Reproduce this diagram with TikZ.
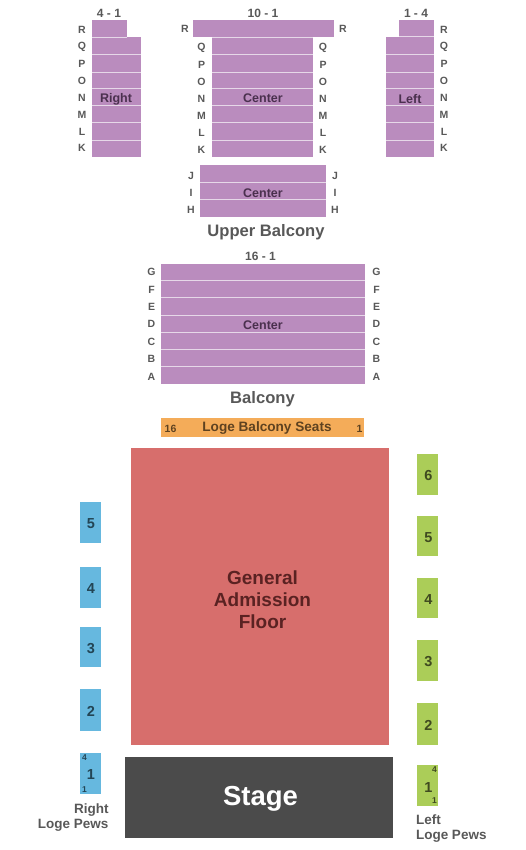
\documentclass[tikz,border=0pt]{standalone}
\usepackage{fontspec}
\setmainfont{Liberation Sans}
\definecolor{purp}{HTML}{BA8CBE}
\definecolor{sep}{HTML}{E6D8E8}
\definecolor{orng}{HTML}{F4AC59}
\definecolor{redf}{HTML}{D76E6C}
\definecolor{stg}{HTML}{4B4B4B}
\definecolor{blu}{HTML}{66B8DF}
\definecolor{grn}{HTML}{ABCD58}
\definecolor{gtxt}{HTML}{585858}
\definecolor{ptxt}{HTML}{4A304E}
\definecolor{rtxt}{HTML}{5A2222}
\definecolor{otxt}{HTML}{5E4220}
\definecolor{btxt}{HTML}{234555}
\definecolor{ntxt}{HTML}{3F4A20}
\tikzset{
  x=1pt,y=-1pt,
  every node/.style={inner sep=0pt,outer sep=0pt,font=\bfseries},
  rowlbl/.style={text=gtxt,yshift=-0.8pt,font=\fontsize{10.5}{12}\selectfont\bfseries},
  head/.style={text=gtxt,yshift=-0.6pt,font=\fontsize{12}{13}\selectfont\bfseries},
  title/.style={text=gtxt,yshift=-0.8pt,font=\fontsize{16.6}{18}\selectfont\bfseries},
  pew/.style={text=gtxt,yshift=-1.5pt,font=\fontsize{13.5}{15.5}\selectfont\bfseries},
  seclbl/.style={text=ptxt,yshift=-0.8pt,font=\fontsize{12.5}{14}\selectfont\bfseries},
  small/.style={font=\fontsize{8.5}{10}\selectfont\bfseries},
  num/.style={yshift=-0.8pt,font=\fontsize{14.5}{16}\selectfont\bfseries},
}
\newcommand{\sepline}[3]{\draw[sep,line width=0.9pt] (#1,#3) -- (#2,#3);}
\begin{document}
\begin{tikzpicture}
\useasboundingbox (0,0) rectangle (525,850);
% upper balcony blocks
\fill[purp] (92,20) rectangle (127,37.5);
\fill[purp] (92,37.5) rectangle (141,157);
\fill[purp] (193,20) rectangle (334,37.5);
\fill[purp] (212,37.5) rectangle (313,157);
\fill[purp] (399,20) rectangle (434,37);
\fill[purp] (386,37) rectangle (434,157);
\foreach \yy in {54.3,72,88.3,105.3,122.3,140.3}{
  \sepline{92}{141}{\yy}
  \sepline{212}{313}{\yy}
  \sepline{386}{434}{\yy}
}
\sepline{92}{127}{37.5}\sepline{212}{313}{37.5}\sepline{399}{434}{36.5}
\fill[purp] (200,165) rectangle (326,217);
\foreach \yy in {182,199.3}{\sepline{200}{326}{\yy}}
\fill[purp] (161,264) rectangle (365,384);
\foreach \yy in {280.3,297.5,315,332.5,349.5,366.5}{\sepline{161}{365}{\yy}}
% row labels
\foreach \lt/\yy in {R/29,Q/46,P/63,O/80,N/97,M/114,L/131,K/147}{
  \node[rowlbl] (rl\lt) at (82,\yy) {\lt};
  \node[rowlbl] (rr\lt) at (444,\yy) {\lt};
}
\foreach \lt/\yy in {Q/47,P/64,O/81,N/98,M/115,L/132,K/149}{
  \node[rowlbl] (cl\lt) at (201.5,\yy) {\lt};
  \node[rowlbl] (cr\lt) at (323,\yy) {\lt};
}
\node[rowlbl] (cR1) at (185,28) {R};
\node[rowlbl] (cR2) at (343,28) {R};
\foreach \lt/\yy in {J/175,I/192,H/209}{
  \node[rowlbl] (ul\lt) at (191,\yy) {\lt};
  \node[rowlbl] (ur\lt) at (335,\yy) {\lt};
}
\foreach \lt/\yy in {G/271,F/289,E/306,D/323,C/341,B/358,A/376}{
  \node[rowlbl] (bl\lt) at (151.5,\yy) {\lt};
  \node[rowlbl] (br\lt) at (376.5,\yy) {\lt};
}
% headings
\node[head] (h1) at (109,13) {4 - 1};
\node[head] (h2) at (263,13) {10 - 1};
\node[head] (h3) at (416,13) {1 - 4};
\node[head] (h4) at (260.5,256) {16 - 1};
\node[seclbl] (s1) at (116,98) {Right};
\node[seclbl] (s2) at (263,97) {Center};
\node[seclbl] (s3) at (410,98) {Left};
\node[seclbl] (s4) at (263,192) {Center};
\node[seclbl] (s5) at (263,324) {Center};
\node[title] (t1) at (266,231) {Upper Balcony};
\node[title] (t2) at (262.5,398) {Balcony};
% loge
\fill[orng] (161,418) rectangle (364,437);
\node[text=otxt,font=\fontsize{13.6}{15}\selectfont\bfseries] (lg) at (267,428.5) {Loge Balcony Seats};
\node[text=otxt,font=\fontsize{10.5}{12}\selectfont\bfseries] (lg1) at (170.5,429) {16};
\node[text=otxt,font=\fontsize{10.5}{12}\selectfont\bfseries] (lg2) at (359.5,429) {1};
% floor and stage
\fill[redf] (131,448) rectangle (389,745);
\node[text=rtxt,align=center,font=\fontsize{19}{22}\selectfont\bfseries] (fl) at (262.5,600) {General\\Admission\\Floor};
\fill[stg] (125,757) rectangle (393,838);
\node[text=white,font=\fontsize{27.5}{30}\selectfont\bfseries] (st) at (260.5,799) {Stage};
% pews
\foreach \n/\a/\b in {5/502/543,4/567/608,3/627/667,2/689/731,1/753/794}{
  \fill[blu] (80,\a) rectangle (101,\b);
}
\foreach \n/\a/\b in {5/523,4/588,3/648,2/711}{
  \node[num,text=btxt] (bp\n) at (91,\a) {\n};
}
\node[num,text=btxt] (bp1) at (91,774) {1};
\node[small,text=btxt] (bp1a) at (84.5,757.5) {4};
\node[small,text=btxt] (bp1b) at (84.5,789.5) {1};
\foreach \n/\a/\b in {6/454/495,5/516/556,4/578/618,3/640/681,2/703/745,1/765/806}{
  \fill[grn] (417,\a) rectangle (438,\b);
}
\foreach \n/\a in {6/475,5/537,4/599,3/661,2/725}{
  \node[num,text=ntxt] (gp\n) at (428.5,\a) {\n};
}
\node[num,text=ntxt] (gp1) at (428.5,787) {1};
\node[small,text=ntxt] (gp1a) at (434.5,770) {4};
\node[small,text=ntxt] (gp1b) at (434.5,801) {1};
\node[pew,align=right,anchor=east] (pr) at (108.5,816) {Right\\Loge Pews};
\node[pew,align=left,anchor=west] (pl) at (416,827) {Left\\Loge Pews};
\end{tikzpicture}
\end{document}
